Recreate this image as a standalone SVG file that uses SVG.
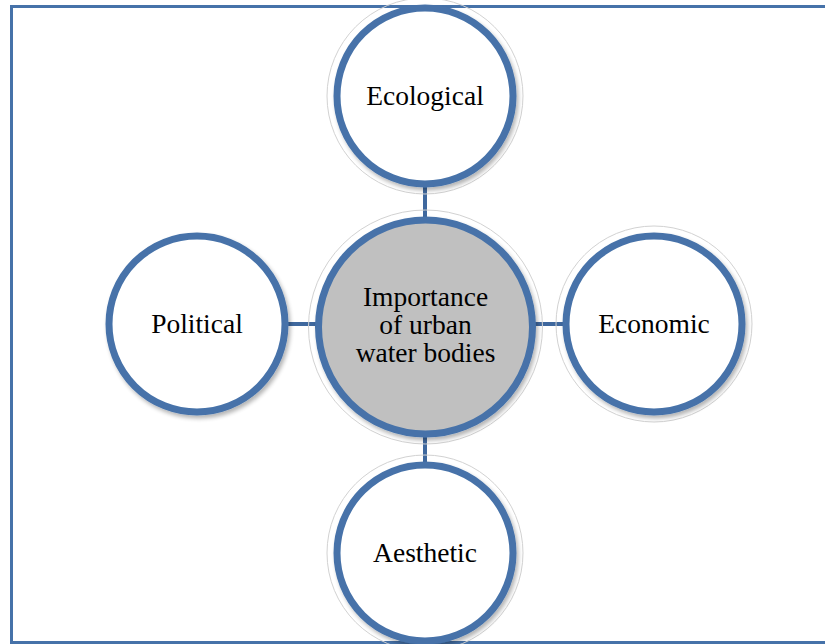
<svg xmlns="http://www.w3.org/2000/svg" width="825" height="644" viewBox="0 0 825 644">
<style>
.ring{fill:#fff;stroke:#4672a9;stroke-width:7;filter:url(#sh)}
.center{fill:#c0c0c0}
.halo{fill:none;stroke:#d2d2d2;stroke-width:1}
.lbl{font-family:"Liberation Serif","Times New Roman",serif;font-size:27.5px;fill:#000;text-anchor:middle}
.conn{stroke:#3f689e;stroke-width:4;fill:none}
.frame{stroke:#4672a9;stroke-width:3;fill:none}
</style>
<defs>
<filter id="sh" x="-20%" y="-20%" width="140%" height="140%">
<feGaussianBlur in="SourceAlpha" stdDeviation="2"/>
<feOffset dx="2" dy="3" result="b"/>
<feComponentTransfer><feFuncA type="linear" slope="0.3"/></feComponentTransfer>
<feMerge><feMergeNode/><feMergeNode in="SourceGraphic"/></feMerge>
</filter>
</defs>
<rect width="825" height="644" fill="#fff"/>
<g id="frame">
<path class="frame" d="M11.5 644 V6.5 H825"/>
<path class="frame" d="M11.5 642.5 H825"/>
</g>
<g id="connectors">
<line class="conn" x1="425" y1="184" x2="425" y2="219"/>
<line class="conn" x1="286" y1="324" x2="318" y2="324"/>
<line class="conn" x1="533" y1="324" x2="565" y2="324"/>
<line class="conn" x1="425" y1="435" x2="425" y2="464"/>
</g>
<g id="ecological">
<circle class="halo" cx="425" cy="96" r="98"/>
<circle class="ring" cx="425" cy="96" r="88"/>
<text class="lbl" x="425" y="105">Ecological</text>
</g>
<g id="political">
<circle class="ring" cx="197" cy="324" r="88"/>
<text class="lbl" x="197" y="333">Political</text>
</g>
<g id="economic">
<circle class="halo" cx="654" cy="324" r="98"/>
<circle class="ring" cx="654" cy="324" r="88"/>
<text class="lbl" x="654" y="333">Economic</text>
</g>
<g id="aesthetic">
<circle class="halo" cx="425" cy="553" r="98"/>
<circle class="ring" cx="425" cy="553" r="88"/>
<text class="lbl" x="425" y="562">Aesthetic</text>
</g>
<g id="importance">
<circle class="halo" cx="425.5" cy="327" r="117"/>
<circle class="ring center" cx="425.5" cy="327" r="107"/>
<text class="lbl" x="425.5" y="306">Importance</text>
<text class="lbl" x="425.5" y="334">of urban</text>
<text class="lbl" x="425.5" y="362">water bodies</text>
</g>
</svg>
